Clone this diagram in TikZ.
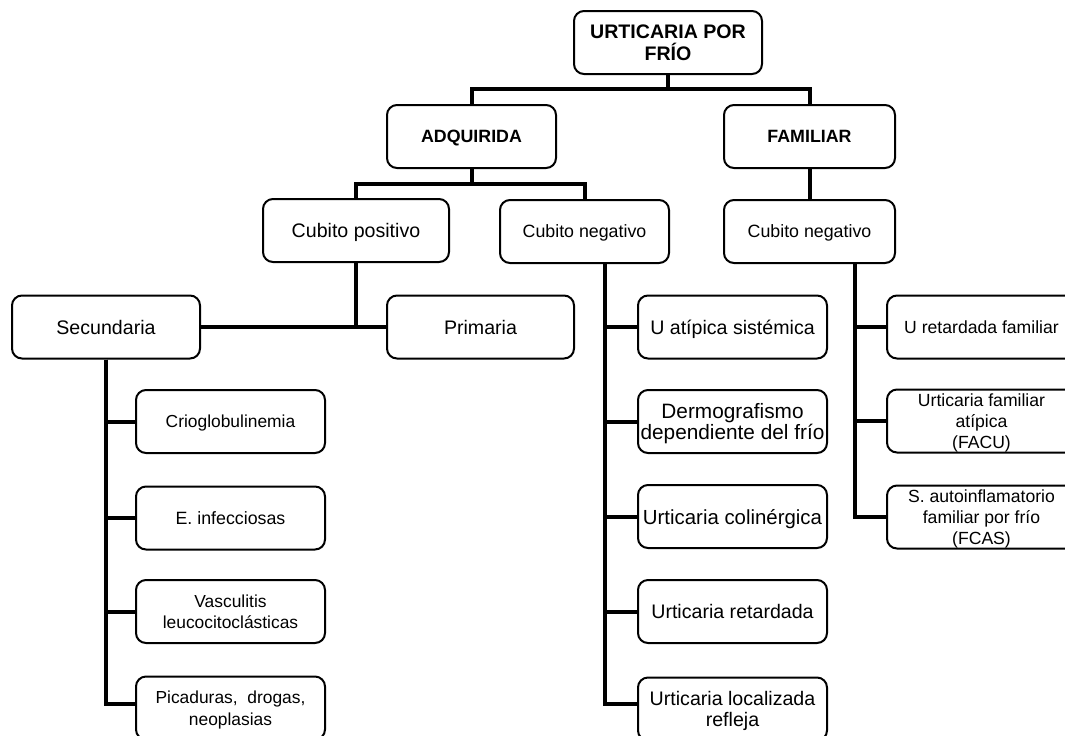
\documentclass[tikz,border=0pt]{standalone}
\usepackage{fontspec}
\setmainfont{Liberation Sans}

\tikzset{
  box/.style={draw, line width=1pt, rounded corners=5pt, minimum width=94.5pt,
    minimum height=31.5pt, align=center, inner sep=1pt, text depth=0pt,
    font=\fontsize{9.8}{10.8}\selectfont},
  headbox/.style={box, font=\fontsize{8.9}{10.7}\selectfont\bfseries},
  smallbox/.style={box, font=\fontsize{8.7}{10.8}\selectfont},
  famkid/.style={box, inner sep=0.5pt, font=\fontsize{8.8}{10.5}\selectfont},
  conn/.style={line width=2pt},
}

\begin{document}
\begin{tikzpicture}[x=0.5pt, y=-0.5pt]
  \useasboundingbox (0,0) rectangle (1065,735);
  \clip (0,0) rectangle (1065,735);

  % top levels
  \node[headbox, minimum width=94pt, font=\fontsize{9.8}{10.7}\selectfont\bfseries]
    (root) at (668,42.5) {URTICARIA POR\\FRÍO};
  \node[headbox, minimum width=84.5pt] (adq) at (471.5,136.5) {ADQUIRIDA};
  \node[headbox, minimum width=85.5pt] (fam) at (809.5,136.5) {FAMILIAR};

  \node[box, minimum width=93pt] (cpos) at (356,230.5) {Cubito positivo};
  \node[box, minimum width=84.5pt, font=\fontsize{8.9}{10.8}\selectfont]
    (cneg) at (584.5,231.5) {Cubito negativo};
  \node[box, minimum width=85.5pt, font=\fontsize{8.9}{10.8}\selectfont]
    (fneg) at (809.5,231.5) {Cubito negativo};

  \node[box, minimum width=94pt] (sec) at (106,327) {Secundaria};
  \node[box, minimum width=93.5pt] (prim) at (480.5,327) {Primaria};

  % secundaria
  \node[smallbox] (s1) at (230.5,421.5) {Crioglobulinemia};
  \node[smallbox, font=\fontsize{8.9}{10.8}\selectfont] (s2) at (230.5,518) {E. infecciosas};
  \node[smallbox] (s3) at (230.5,611.5) {Vasculitis\\leucocitoclásticas};
  \node[smallbox] (s4) at (230.5,708) {Picaduras,~ drogas,\\neoplasias};

  % cubito negativo (adquirida)
  \node[box] (n1) at (732.5,327) {U atípica sistémica};
  \node[box, font=\fontsize{10.4}{10.8}\selectfont] (n2) at (732.5,421.5) {Dermografismo\\dependiente del frío};
  \node[box, font=\fontsize{10.2}{10.8}\selectfont] (n3) at (732.5,516.5) {Urticaria colinérgica};
  \node[box] (n4) at (732.5,611.5) {Urticaria retardada};
  \node[box] (n5) at (732.5,709) {Urticaria localizada\\refleja};

  % cubito negativo (familiar)
  \node[famkid] (f1) at (981.5,327) {U retardada familiar};
  \node[famkid] (f2) at (981.5,421) {Urticaria familiar\\atípica\\(FACU)};
  \node[famkid] (f3) at (981.5,517) {S. autoinflamatorio\\familiar por frío\\(FCAS)};

  % connectors
  \coordinate (rbus) at (668,89);
  \coordinate (abus) at (471.5,184);
  \coordinate (nt) at ([xshift=10.25pt]cneg.south);
  \coordinate (ft) at ([xshift=22.75pt]fneg.south);

  \draw[conn] (root.south) -- (rbus) -| (adq.north);
  \draw[conn] (rbus) -| (fam.north);
  \draw[conn] (adq.south) -- (abus) -| (cpos.north);
  \draw[conn] (abus) -| (cneg.north);
  \draw[conn] (fam) -- (fneg);
  \draw[conn] (cpos.south) -- (cpos.south |- sec.east);
  \draw[conn] (sec.east) -- (prim.west);

  \foreach \k in {s1,s2,s3}
    \draw[conn] (sec.south) |- (\k.west);
  \draw[conn] (sec.south) |- ([yshift=2pt]s4.west);
  \foreach \k in {n1,n2,n3,n4}
    \draw[conn] (nt) |- (\k.west);
  \draw[conn] (nt) |- ([yshift=2.5pt]n5.west);
  \foreach \k in {f1,f2,f3}
    \draw[conn] (ft) |- (\k.west);
\end{tikzpicture}
\end{document}
